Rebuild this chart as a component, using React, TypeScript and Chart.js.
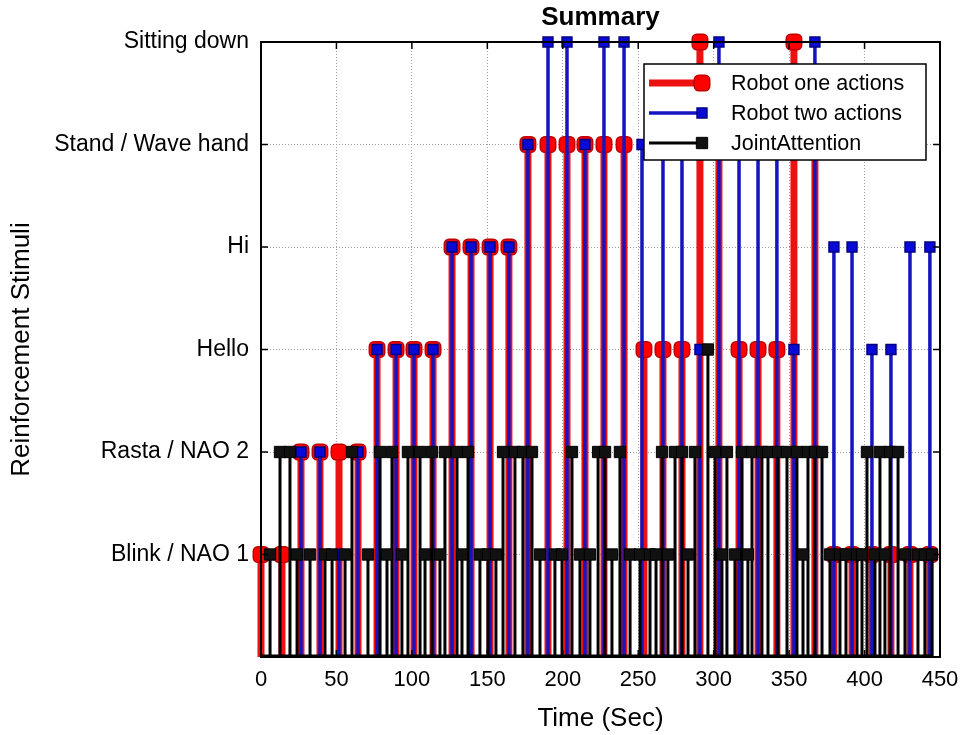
import React, { useEffect, useRef } from "react";
import { Chart, registerables } from "chart.js";

Chart.register(...registerables);

const FONT = "'Liberation Sans', Arial, Helvetica, sans-serif";

// y-axis category labels (index = stimulus level)
const stimulusLabels = ["", "Blink / NAO 1", "Rasta / NAO 2", "Hello", "Hi", "Stand / Wave hand", "Sitting down"];

// Robot one actions (seconds, level)
const robotOneTimes = [0, 13.9, 26.5, 39.1, 51.7, 64.3, 76.9, 89.5, 101.4, 114, 126.6, 139.2, 151.8, 164.3, 176.9, 190.2, 202.8, 214.7, 227.3, 240.6, 253.8, 266.4, 279, 290.9, 303.5, 316.8, 329.4, 341.9, 353.2, 367.1, 379.7, 391.7, 404.9, 417.5, 430.1, 443.3];
const robotOneValues = [1, 1, 2, 2, 2, 2, 3, 3, 3, 3, 4, 4, 4, 4, 5, 5, 5, 5, 5, 5, 3, 3, 3, 6, 5, 3, 3, 3, 6, 5, 1, 1, 1, 1, 1, 1];

// Robot two actions
const robotTwoTimes = [26.5, 39.1, 51.7, 64.3, 76.9, 89.5, 101.4, 114, 126.6, 139.2, 151.8, 164.3, 176.9, 190.2, 202.8, 214.7, 227.3, 240.6, 252.5, 266.4, 279, 290.9, 303.5, 316.8, 329.4, 341.9, 353.2, 367.1, 379.7, 391.7, 404.9, 417.5, 430.1, 443.3];
const robotTwoValues = [2, 2, 1, 2, 3, 3, 3, 3, 4, 4, 4, 4, 5, 6, 6, 5, 6, 6, 5, 5, 5, 3, 6, 5, 5, 5, 3, 6, 4, 4, 3, 3, 4, 4];

// Joint attention
const jointTimes = [6.0, 12.6, 19.2, 23.9, 32.5, 42.4, 47.1, 55.7, 60.3, 70.9, 78.9, 83.5, 86.8, 93.4, 97.4, 105.4, 108.7, 113.3, 118.6, 121.9, 129.9, 133.2, 137.2, 145.1, 150.4, 155.7, 160.4, 168.3, 173.6, 179.6, 184.9, 194.8, 199.5, 206.1, 211.4, 218.0, 223.4, 228.0, 232.6, 237.9, 244.6, 251.2, 257.8, 261.8, 265.8, 269.7, 274.4, 279.0, 283.0, 287.6, 296.2, 300.9, 305.5, 308.8, 314.1, 318.8, 322.7, 325.4, 332.0, 336.0, 342.6, 348.6, 355.2, 359.2, 362.5, 367.1, 371.8, 377.1, 383.7, 387.7, 395.0, 398.3, 401.6, 406.9, 410.2, 413.5, 416.9, 422.2, 426.8, 435.4, 440.0, 444.7];
const jointValues = [1, 2, 2, 1, 1, 1, 1, 1, 2, 1, 2, 1, 2, 1, 2, 2, 1, 2, 1, 2, 2, 1, 2, 1, 1, 1, 2, 2, 2, 2, 1, 1, 1, 2, 1, 1, 2, 2, 1, 2, 1, 1, 1, 1, 2, 1, 2, 2, 1, 2, 3, 2, 1, 2, 1, 2, 1, 2, 2, 2, 2, 2, 2, 1, 2, 2, 2, 1, 1, 1, 1, 1, 2, 1, 2, 1, 2, 2, 1, 1, 1, 1];

const xTickStep = 50;
const xMax = 450;

function stems(times: number[], values: number[]) {
  const pts: { x: number; y: number | null }[] = [];
  times.forEach((t, i) => {
    pts.push({ x: t, y: 0 }, { x: t, y: values[i] }, { x: t, y: null });
  });
  return pts;
}

function drawMarker(ctx: CanvasRenderingContext2D, style: string, x: number, y: number, r: number, fill: string, stroke: string, bw: number) {
  ctx.save();
  ctx.fillStyle = fill;
  ctx.strokeStyle = stroke;
  ctx.lineWidth = bw;
  ctx.beginPath();
  if (style === "rectRounded") {
    const s = r * 1.716;
    (ctx as any).roundRect(x - s / 2, y - s / 2, s, s, r * 0.516);
  } else {
    const s = r * Math.SQRT2;
    ctx.rect(x - s / 2, y - s / 2, s, s);
  }
  ctx.fill();
  if (bw) ctx.stroke();
  ctx.restore();
}

const framePlugin = {
  id: "frame",
  afterDatasetsDraw(chart: any) {
    const { ctx, chartArea, scales } = chart;
    const xs = scales.x;
    const ys = scales.y;
    ctx.save();
    // stem baseline
    const allTimes = [...robotOneTimes, ...robotTwoTimes, ...jointTimes];
    const y0 = ys.getPixelForValue(0);
    ctx.strokeStyle = "#000";
    ctx.lineWidth = 3;
    ctx.beginPath();
    ctx.moveTo(xs.getPixelForValue(Math.min(...allTimes)), y0 - 1);
    ctx.lineTo(xs.getPixelForValue(Math.max(...allTimes)), y0 - 1);
    ctx.stroke();
    // box
    ctx.lineWidth = 2;
    ctx.strokeRect(chartArea.left, chartArea.top, chartArea.right - chartArea.left, chartArea.bottom - chartArea.top);
    // inward ticks
    ctx.lineWidth = 1.5;
    ctx.beginPath();
    xs.ticks.forEach((t: any) => {
      const px = xs.getPixelForValue(t.value);
      ctx.moveTo(px, chartArea.bottom);
      ctx.lineTo(px, chartArea.bottom - 7);
      ctx.moveTo(px, chartArea.top);
      ctx.lineTo(px, chartArea.top + 7);
    });
    ys.ticks.forEach((t: any) => {
      const py = ys.getPixelForValue(t.value);
      ctx.moveTo(chartArea.left, py);
      ctx.lineTo(chartArea.left + 7, py);
      ctx.moveTo(chartArea.right, py);
      ctx.lineTo(chartArea.right - 7, py);
    });
    ctx.stroke();
    ctx.restore();
  },
  afterDraw(chart: any) {
    const { ctx, chartArea } = chart;
    ctx.save();
    // title
    ctx.fillStyle = "#000";
    ctx.font = `bold 26px ${FONT}`;
    ctx.textAlign = "center";
    ctx.textBaseline = "middle";
    ctx.fillText("Summary", (chartArea.left + chartArea.right) / 2, 18);

    // legend box
    const right = chartArea.right - 14;
    const left = right - 282;
    const top = chartArea.top + 22;
    const bottom = top + 96;
    ctx.fillStyle = "#fff";
    ctx.fillRect(left, top, right - left, bottom - top);
    ctx.strokeStyle = "#000";
    ctx.lineWidth = 1.5;
    ctx.strokeRect(left, top, right - left, bottom - top);
    chart.data.datasets.forEach((ds: any, i: number) => {
      const cy = top + 19 + i * 30;
      ctx.strokeStyle = ds.borderColor;
      ctx.lineWidth = ds.borderWidth;
      ctx.beginPath();
      ctx.moveTo(left + 5, cy);
      ctx.lineTo(left + 58, cy);
      ctx.stroke();
      drawMarker(ctx, ds.pointStyle, left + 58, cy, ds.markerRadius, ds.pointBackgroundColor, ds.pointBorderColor, ds.pointBorderWidth);
      ctx.fillStyle = "#000";
      ctx.font = `21.5px ${FONT}`;
      ctx.textAlign = "left";
      ctx.textBaseline = "middle";
      ctx.fillText(ds.label, left + 87, cy + 1);
    });
    ctx.restore();
  },
};

const radiusFor = (r: number) => (c: any) => (c.raw && c.raw.y ? r : 0);

export default function App() {
  const ref = useRef<HTMLCanvasElement | null>(null);
  useEffect(() => {
    if (!ref.current) return;
    const chart = new Chart(ref.current, {
      type: "line",
      data: {
        datasets: [
          {
            label: "Robot one actions",
            data: stems(robotOneTimes, robotOneValues),
            borderColor: "#ee1111",
            borderWidth: 7,
            pointStyle: "rectRounded",
            markerRadius: 9,
            pointRadius: radiusFor(9),
            pointBackgroundColor: "#ff0000",
            pointBorderColor: "#c00000",
            pointBorderWidth: 1.5,
            spanGaps: false,
            tension: 0,
            clip: false,
            order: 3,
          } as any,
          {
            label: "Robot two actions",
            data: stems(robotTwoTimes, robotTwoValues),
            borderColor: "#1414c0",
            borderWidth: 3.5,
            pointStyle: "rect",
            markerRadius: 7,
            pointRadius: radiusFor(7),
            pointBackgroundColor: "#0a0ad8",
            pointBorderColor: "#000080",
            pointBorderWidth: 1.5,
            spanGaps: false,
            tension: 0,
            clip: false,
            order: 2,
          } as any,
          {
            label: "JointAttention",
            data: stems(jointTimes, jointValues),
            borderColor: "#000000",
            borderWidth: 3,
            pointStyle: "rect",
            markerRadius: 8,
            pointRadius: radiusFor(8),
            pointBackgroundColor: "#111111",
            pointBorderColor: "#000000",
            pointBorderWidth: 1,
            spanGaps: false,
            tension: 0,
            clip: false,
            order: 1,
          } as any,
        ],
      },
      options: {
        animation: false,
        responsive: false,
        devicePixelRatio: 1,
        events: [],
        layout: { padding: { left: 0, right: 22, top: 42, bottom: 0 } },
        plugins: {
          legend: { display: false },
          tooltip: { enabled: false },
          title: { display: false },
        },
        scales: {
          x: {
            type: "linear",
            min: 0,
            max: xMax,
            afterFit: (s: any) => {
              s.height = 78;
              s.paddingLeft = 0;
              s.paddingRight = 0;
            },
            ticks: {
              stepSize: xTickStep,
              padding: 10,
              color: "#000",
              maxRotation: 0,
              autoSkip: false,
              font: { family: FONT, size: 22 },
            },
            grid: { color: "#a0a0a0", lineWidth: 1, drawTicks: false },
            border: { display: false, dash: [1, 2] },
            title: {
              display: true,
              text: "Time (Sec)",
              color: "#000",
              font: { family: FONT, size: 26 },
              padding: { top: 0, bottom: 1 },
            },
          },
          y: {
            type: "linear",
            min: 0,
            max: 6,
            afterFit: (s: any) => {
              s.width = 261;
              s.paddingTop = 0;
              s.paddingBottom = 0;
            },
            ticks: {
              stepSize: 1,
              padding: 12,
              color: "#000",
              autoSkip: false,
              font: { family: FONT, size: 23 },
              callback: (v: any) => stimulusLabels[Math.round(Number(v))] ?? "",
            },
            grid: { color: "#a0a0a0", lineWidth: 1, drawTicks: false },
            border: { display: false, dash: [1, 2] },
            title: {
              display: true,
              text: "Reinforcement Stimuli",
              color: "#000",
              font: { family: FONT, size: 26 },
              padding: { top: 6, bottom: 0 },
            },
          },
        },
      } as any,
      plugins: [framePlugin],
    });
    return () => chart.destroy();
  }, []);

  return (
    <div style={{ position: "fixed", left: 0, top: 0, width: 962, height: 735, background: "#fff" }}>
      <canvas ref={ref} width={962} height={735} style={{ display: "block", width: 962, height: 735 }} />
    </div>
  );
}
